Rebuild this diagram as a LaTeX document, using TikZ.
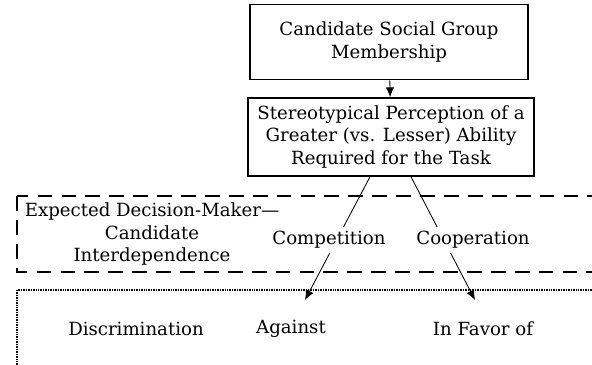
\documentclass[tikz,border=0pt]{standalone}
\usepackage{fontspec}
\setmainfont{DejaVu Serif}
\usetikzlibrary{arrows.meta}
\usetikzlibrary{positioning}

\tikzset{
  stagebox/.style={draw, line width=1.1pt, align=center, inner sep=2pt},
  gaplabel/.style={fill=white, inner sep=3pt},
  linkarrow/.style={semithick, -{Latex[length=7pt,width=6pt]}},
}

\begin{document}
\begin{tikzpicture}[x=0.025cm, y=-0.025cm,
    every node/.style={font=\fontsize{12.9}{16.2}\selectfont}]
      \useasboundingbox (0,0) rectangle (592,365);
      \clip (0,0) rectangle (592,365);

      \node [stagebox, minimum width=6.95cm, minimum height=1.875cm] (member) at (389,42)
      {Candidate Social Group\\Membership};
      \node [stagebox, minimum width=7.15cm, minimum height=1.95cm] (percept) at (391,137)
      {Stereotypical Perception of a\\Greater (vs. Lesser) Ability\\Required for the Task};

      % moderator band and outcome band
      \draw [line width=1.1pt, dash pattern=on 10.5pt off 6.5pt] (17,196) rectangle (640,272);
      \draw [thick, dash pattern=on 0.6pt off 0.6pt] (17,290) rectangle (640,368);

      \coordinate (againsttip) at (305,300);
      \coordinate (favortip) at (475,300);

      \draw [linkarrow] (member) -- (percept);
      \draw [linkarrow] ([xshift=-0.525cm]percept.south) -- (againsttip);
      \draw [linkarrow] ([xshift=0.5cm]percept.south) -- (favortip);

      \node [align=center] (interdep) at (152,234)
      {Expected Decision-Maker---\\Candidate\\Interdependence};
      \node [gaplabel] (compet) at (329,240) {Competition};
      \node [gaplabel] (coop) at (473,240) {Cooperation};

      \node (discrim) at (136,329) {Discrimination};
      \node (against) at (291,329) {Against};
      \node (favor) at (483,329) {In Favor of};
\end{tikzpicture}
\end{document}
